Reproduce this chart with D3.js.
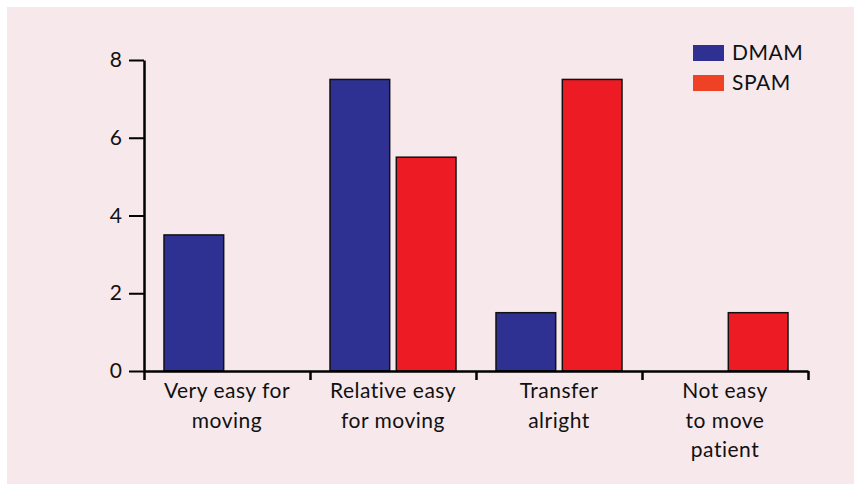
<!DOCTYPE html>
<html><head><meta charset="utf-8">
<script src="https://cdn.jsdelivr.net/npm/d3@7"></script>
<style>html,body{margin:0;padding:0;background:#fff;}svg{display:block;}</style>
</head><body>
<script>
const categories = [["Very easy for","moving"],["Relative easy","for moving"],["Transfer","alright"],["Not easy","to move","patient"]];
const seriesNames = ["DMAM","SPAM"];
const dmam = [3.5, 7.5, 1.5, 0];
const spam = [0, 5.5, 7.5, 1.5];
const yTicks = [0,2,4,6,8];
const barColors = ["#2e3192","#ed1c24"];
const legendColors = ["#2e3192","#ef4123"];

const W=854,H=484;
const svg=d3.select("body").append("svg").attr("width",W).attr("height",H);
svg.append("rect").attr("x",7).attr("y",7).attr("width",W-7).attr("height",H-7).attr("fill","#f7e8ec");

const font="Lato, 'Open Sans', sans-serif";
const ls="0.5px";
const x0=d3.scaleBand().domain(d3.range(categories.length)).range([144,808]).paddingInner(0).paddingOuter(0);
const x1=d3.scaleBand().domain(seriesNames).range([20,x0.bandwidth()-20]).paddingInner(0.1);
const y=d3.scaleLinear().domain([0,8]).range([371,60]);

const g=svg.append("g");
const data=categories.map((c,i)=>({i,vals:[dmam[i],spam[i]]}));
g.selectAll("g.grp").data(data).join("g").attr("transform",d=>`translate(${x0(d.i)},0)`)
 .selectAll("rect").data(d=>d.vals.map((v,k)=>({v,k}))).join("rect")
 .filter(d=>d.v>0)
 .attr("x",d=>x1(seriesNames[d.k])).attr("width",x1.bandwidth())
 .attr("y",d=>y(d.v)).attr("height",d=>y(0)-y(d.v))
 .attr("fill",d=>barColors[d.k]).attr("stroke","#111").attr("stroke-width",1.5);

// y axis
const ya=g.append("g").attr("transform","translate(144,0)")
 .call(d3.axisLeft(y).tickValues(yTicks).tickSize(15).tickPadding(7).tickSizeOuter(0));
ya.select(".domain").attr("stroke","#000").attr("stroke-width",2.5);
ya.selectAll(".tick line").attr("stroke","#000").attr("stroke-width",2);
ya.selectAll(".tick text").attr("font-family",font).attr("font-size",21).attr("fill","#111");

// x axis baseline
const xs=d3.scaleLinear().domain([0,categories.length]).range([144,808]);
const xa=g.append("g").attr("transform","translate(0,371)")
 .call(d3.axisBottom(xs).tickValues(d3.range(categories.length+1)).tickSize(9).tickFormat("").tickSizeOuter(0));
xa.select(".domain").attr("stroke","#000").attr("stroke-width",2.5);
xa.selectAll(".tick line").attr("stroke","#000").attr("stroke-width",2.5);

// category labels
categories.forEach((lines,i)=>{
  const t=g.append("text").attr("x",x0(i)+x0.bandwidth()/2).attr("y",398)
   .attr("text-anchor","middle").attr("font-family",font).attr("font-size",21)
   .attr("letter-spacing",ls).attr("fill","#111");
  lines.forEach((l,j)=>t.append("tspan").attr("x",x0(i)+x0.bandwidth()/2).attr("dy",j?29.5:0).text(l));
});

// legend
seriesNames.forEach((s,k)=>{
  const ly=45+k*30;
  svg.append("rect").attr("x",693).attr("y",ly).attr("width",31).attr("height",16).attr("fill",legendColors[k]);
  svg.append("text").attr("x",732).attr("y",ly+15).attr("font-family",font).attr("font-size",21)
   .attr("letter-spacing",ls).attr("fill","#111").text(s);
});
</script>
</body></html>
